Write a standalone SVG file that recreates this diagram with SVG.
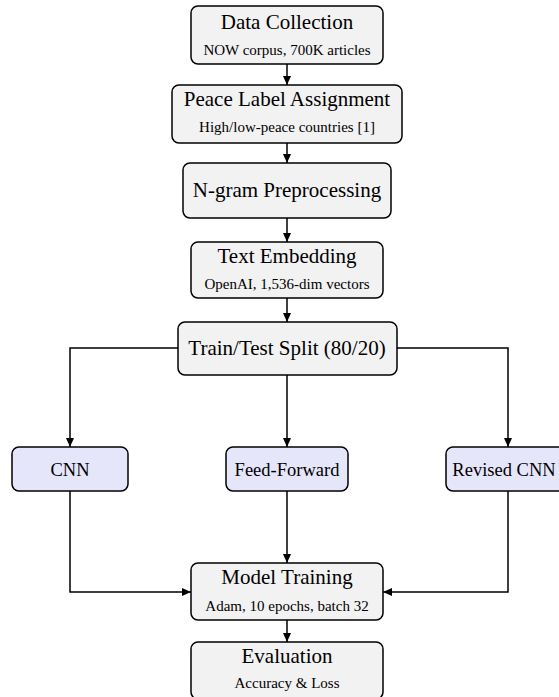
<svg xmlns="http://www.w3.org/2000/svg" width="559" height="697" viewBox="0 0 559 697">
<style>
.box{fill:#f2f2f2;stroke:#000;stroke-width:1.5}
.mbox{fill:#e6e6fa;stroke:#000;stroke-width:1.5}
text{font-family:'Liberation Serif','Times New Roman',Times,'DejaVu Serif',serif;text-anchor:middle;fill:#000}
.t{font-size:21px}
.m{font-size:18.5px}
.s{font-size:15px}
.c{fill:none;stroke:#000;stroke-width:1.5;marker-end:url(#ah)}
</style>
<defs>
<marker id="ah" markerUnits="userSpaceOnUse" markerWidth="10" markerHeight="9" refX="9" refY="4" orient="auto">
<path d="M0,0 L9,4 L0,8 z" fill="#000"/>
</marker>
</defs>
<g id="connectors">
<path class="c" d="M287,64 V85"/>
<path class="c" d="M287,143 V163"/>
<path class="c" d="M287,218 V242"/>
<path class="c" d="M287,298 V322"/>
<path class="c" d="M178,348 H70 V447"/>
<path class="c" d="M287,375 V447"/>
<path class="c" d="M397,348 H508 V447"/>
<path class="c" d="M70,491 V592 H191"/>
<path class="c" d="M287,491 V563"/>
<path class="c" d="M508,491 V592 H383"/>
<path class="c" d="M287,620 V642"/>
</g>
<g id="data-collection">
<rect class="box" x="191" y="6" width="192" height="58" rx="7"/>
<text class="t" x="287" y="29" font-family="Liberation Serif, serif">Data Collection</text>
<text class="s" x="287" y="55" font-family="Liberation Serif, serif">NOW corpus, 700K articles</text>
</g>
<g id="peace-label">
<rect class="box" x="172" y="85" width="230" height="58" rx="7"/>
<text class="t" x="287" y="106" font-family="Liberation Serif, serif">Peace Label Assignment</text>
<text class="s" x="287" y="132" font-family="Liberation Serif, serif">High/low-peace countries [1]</text>
</g>
<g id="ngram">
<rect class="box" x="183" y="163" width="208" height="55" rx="7"/>
<text class="t" x="287" y="197" font-family="Liberation Serif, serif">N-gram Preprocessing</text>
</g>
<g id="text-embedding">
<rect class="box" x="191" y="242" width="192" height="56" rx="7"/>
<text class="t" x="287" y="263" font-family="Liberation Serif, serif">Text Embedding</text>
<text class="s" x="287" y="289" font-family="Liberation Serif, serif">OpenAI, 1,536-dim vectors</text>
</g>
<g id="split">
<rect class="box" x="178" y="322" width="219" height="53" rx="7"/>
<text class="t" x="287" y="355" font-family="Liberation Serif, serif">Train/Test Split (80/20)</text>
</g>
<g id="cnn">
<rect class="mbox" x="12" y="447" width="116" height="44" rx="7"/>
<text class="m" x="70" y="476" font-family="Liberation Serif, serif">CNN</text>
</g>
<g id="feed-forward">
<rect class="mbox" x="226" y="447" width="122" height="44" rx="7"/>
<text class="m" x="287" y="476" font-family="Liberation Serif, serif">Feed-Forward</text>
</g>
<g id="revised-cnn">
<rect class="mbox" x="446" y="447" width="122" height="44" rx="7"/>
<text class="m" x="504" y="476" font-family="Liberation Serif, serif">Revised CNN</text>
</g>
<g id="model-training">
<rect class="box" x="191" y="563" width="192" height="57" rx="7"/>
<text class="t" x="287" y="584" font-family="Liberation Serif, serif">Model Training</text>
<text class="s" x="287" y="611" font-family="Liberation Serif, serif">Adam, 10 epochs, batch 32</text>
</g>
<g id="evaluation">
<rect class="box" x="191" y="642" width="192" height="57" rx="7"/>
<text class="t" x="287" y="663" font-family="Liberation Serif, serif">Evaluation</text>
<text class="s" x="287" y="688" font-family="Liberation Serif, serif">Accuracy &amp; Loss</text>
</g>
</svg>
